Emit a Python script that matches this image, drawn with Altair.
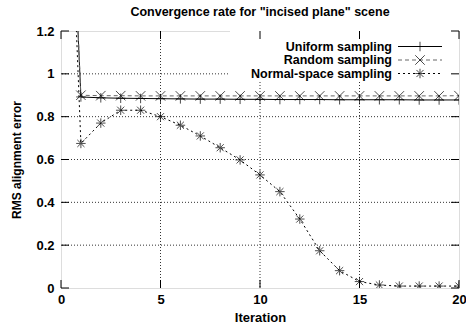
import altair as alt
import pandas as pd

iterations = list(range(0, 21))
uniform = [3.0, 0.892, 0.888, 0.886, 0.885, 0.884, 0.883, 0.882, 0.882, 0.881, 0.881,
           0.880, 0.880, 0.880, 0.879, 0.879, 0.879, 0.879, 0.878, 0.878, 0.878]
random_s = [3.0, 0.900, 0.898, 0.898, 0.897, 0.897, 0.897, 0.897, 0.897, 0.897, 0.897,
            0.897, 0.897, 0.897, 0.897, 0.897, 0.897, 0.897, 0.897, 0.897, 0.898]
normal = [3.0, 0.675, 0.770, 0.830, 0.830, 0.800, 0.760, 0.710, 0.655, 0.598, 0.528,
          0.450, 0.322, 0.174, 0.081, 0.030, 0.014, 0.009, 0.009, 0.009, 0.009]

series_names = ["Uniform sampling", "Random sampling", "Normal-space sampling"]
x_ticks = [0, 5, 10, 15, 20]
y_ticks = [0, 0.2, 0.4, 0.6, 0.8, 1.0, 1.2]
x_grid = [5, 10, 15]
y_grid = [0.2, 0.4, 0.6, 0.8, 1.0]

W, H = 398, 257
FONT = "Liberation Sans"
FS = 13

rows = []
for name, vals in zip(series_names, [uniform, random_s, normal]):
    for it, v in zip(iterations, vals):
        rows.append({"iteration": it, "value": v, "series": name})
df = pd.DataFrame(rows)

PLUS = "M-1,0L1,0M0,-1L0,1"
CROSS = "M-1,-1L1,1M-1,1L1,-1"
STAR = "M-1,0L1,0M0,-1L0,1M-0.75,-0.75L0.75,0.75M-0.75,0.75L0.75,-0.75"

xs = alt.Scale(domain=[0, 20], nice=False)
ys = alt.Scale(domain=[0, 1.2], nice=False)

color_scale = alt.Scale(domain=series_names, range=["#000000", "#666666", "#000000"])
dash_scale = alt.Scale(domain=series_names, range=[[1, 0], [4, 3], [2, 3]])
shape_scale = alt.Scale(domain=series_names, range=[PLUS, CROSS, STAR])

xaxis = alt.Axis(values=x_ticks, ticks=False, grid=False, domain=False, title="Iteration",
                 labelFont=FONT, labelFontWeight="bold", labelFontSize=FS, labelPadding=5,
                 labelFlush=False, labelOverlap=False, labelColor="black",
                 titleFont=FONT, titleFontWeight="bold", titleFontSize=FS, titlePadding=5,
                 titleColor="black")
yaxis = alt.Axis(values=y_ticks, ticks=False, grid=False, domain=False, title="RMS alignment error",
                 labelFont=FONT, labelFontWeight="bold", labelFontSize=FS, labelPadding=7,
                 labelFlush=False, labelOverlap=False, labelColor="black",
                 labelExpr="datum.value == 0 ? '0' : datum.value == 1 ? '1' : format(datum.value, '.1f')",
                 titleFont=FONT, titleFontWeight="bold", titleFontSize=12, titlePadding=12,
                 titleColor="black")

gx = pd.DataFrame({"v": x_grid})
gy = pd.DataFrame({"v": y_grid})
tx = pd.DataFrame({"v": x_ticks})
ty = pd.DataFrame({"v": y_ticks})

grid_x = alt.Chart(gx).mark_rule(color="#333333", strokeDash=[1, 2], strokeWidth=1).encode(
    x=alt.X("v:Q", scale=xs, axis=xaxis))
grid_y = alt.Chart(gy).mark_rule(color="#333333", strokeDash=[1, 2], strokeWidth=1).encode(
    y=alt.Y("v:Q", scale=ys, axis=yaxis))

legend_bg = alt.Chart(pd.DataFrame({"a": [0]})).mark_rect(color="white").encode(
    x=alt.value(169), x2=alt.value(W), y=alt.value(0), y2=alt.value(51))

lines = alt.Chart(df).mark_line(strokeWidth=1, clip=True).encode(
    x=alt.X("iteration:Q", scale=xs, axis=xaxis),
    y=alt.Y("value:Q", scale=ys, axis=yaxis),
    color=alt.Color("series:N", scale=color_scale, legend=None),
    strokeDash=alt.StrokeDash("series:N", scale=dash_scale, legend=None),
    detail="series:N",
)
points = alt.Chart(df[df["iteration"] > 0]).mark_point(filled=False, strokeWidth=1, size=90,
                                                       color="black", clip=True).encode(
    x=alt.X("iteration:Q", scale=xs),
    y=alt.Y("value:Q", scale=ys),
    shape=alt.Shape("series:N", scale=shape_scale, legend=None),
)

tick_len = 8
ticks_bottom = alt.Chart(tx).mark_rule(color="black").encode(
    x=alt.X("v:Q", scale=xs), y=alt.value(H), y2=alt.value(H - tick_len))
ticks_top = alt.Chart(tx).mark_rule(color="black").encode(
    x=alt.X("v:Q", scale=xs), y=alt.value(0), y2=alt.value(tick_len))
ticks_left = alt.Chart(ty).mark_rule(color="black").encode(
    y=alt.Y("v:Q", scale=ys), x=alt.value(0), x2=alt.value(tick_len))
ticks_right = alt.Chart(ty).mark_rule(color="black").encode(
    y=alt.Y("v:Q", scale=ys), x=alt.value(W), x2=alt.value(W - tick_len))

# key (legend) drawn in gnuplot style: labels on the left, samples on the right
key_y = [15.5, 29, 42.5]
key_df = pd.DataFrame({"series": series_names, "ky": key_y})
key_text = alt.Chart(key_df).mark_text(align="right", baseline="middle", font=FONT,
                                       fontWeight="bold", fontSize=12.5, color="black").encode(
    text="series:N", x=alt.value(331), y=alt.Y("ky:Q", scale=None))
key_lines = alt.Chart(key_df).mark_rule(strokeWidth=1).encode(
    x=alt.value(337), x2=alt.value(381), y=alt.Y("ky:Q", scale=None),
    color=alt.Color("series:N", scale=color_scale, legend=None),
    strokeDash=alt.StrokeDash("series:N", scale=dash_scale, legend=None))
key_pts = alt.Chart(key_df).mark_point(filled=False, strokeWidth=1, size=90, color="black").encode(
    x=alt.value(359), y=alt.Y("ky:Q", scale=None),
    shape=alt.Shape("series:N", scale=shape_scale, legend=None))

chart = alt.layer(
    grid_x, grid_y, legend_bg, lines, points,
    ticks_bottom, ticks_top, ticks_left, ticks_right,
    key_text, key_lines, key_pts,
).properties(
    width=W, height=H,
    title=alt.TitleParams('Convergence rate for "incised plane" scene', font=FONT,
                          fontWeight="bold", fontSize=12.5, anchor="middle", offset=7,
                          color="black"),
    autosize=alt.AutoSizeParams(type="none"),
    padding={"left": 61, "top": 31, "right": 7, "bottom": 40},
).configure_view(stroke="black", strokeWidth=1.5).configure(background="white")

chart.save("out.html", embed_options={"renderer": "svg", "actions": False})
